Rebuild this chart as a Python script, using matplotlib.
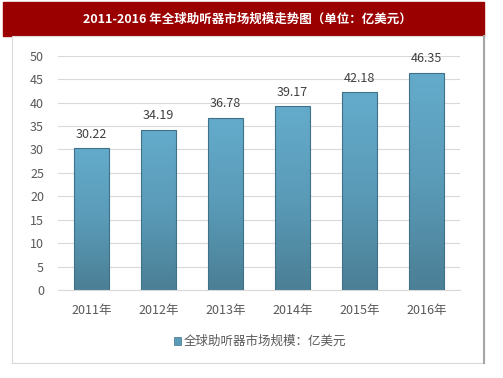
import matplotlib
matplotlib.use("Agg")
import matplotlib.pyplot as plt
import numpy as np
from matplotlib.patches import Rectangle

plt.rcParams["font.family"] = ["Noto Sans CJK SC", "DejaVu Sans"]

years = ["2011年", "2012年", "2013年", "2014年", "2015年", "2016年"]
values = [30.22, 34.19, 36.78, 39.17, 42.18, 46.35]
title = "2011-2016 年全球助听器市场规模走势图（单位：亿美元）"
legend_label = "全球助听器市场规模：亿美元"

W, H = 503, 378
fig = plt.figure(figsize=(W / 100, H / 100), dpi=100)


def px(x0, y0, x1, y1):
    # pixel box (top-left origin) -> figure fraction rect
    return [x0 / W, 1 - y1 / H, (x1 - x0) / W, (y1 - y0) / H]


# Title bar
fig.patches.append(Rectangle((3 / W, 1 - 36 / H), 481 / W, 34 / H,
                             transform=fig.transFigure, color="#9b0000", zorder=-2))
fig.text(247 / W, 1 - 19 / H, title, color="white", fontsize=9,
         fontweight="bold", ha="center", va="center")

# Panel border
fig.patches.append(Rectangle((12 / W, 1 - 363 / H), 472 / W, 327 / H,
                             transform=fig.transFigure, facecolor="white",
                             edgecolor="#d9d9d9", lw=0.8, zorder=-2))
fig.add_artist(plt.Line2D([484 / W, 484 / W], [1 - 363 / H, 1 - 36 / H],
                          transform=fig.transFigure, color="#a6a6a6", lw=1.5))

ax = fig.add_axes(px(58, 55.7, 460, 290))
ax.set_zorder(5)
ax.set_facecolor("none")
x = np.arange(len(years))
bars = ax.bar(x, values, width=0.51, color="none", edgecolor="#3f7289",
              lw=0.8, zorder=3)

grad = np.linspace(0, 1, 256).reshape(-1, 1)
cmap = matplotlib.colors.LinearSegmentedColormap.from_list(
    "bar", ["#4b7f95", "#5a9bb8", "#64abcb"])
for b in bars:
    im = ax.imshow(grad, cmap=cmap, aspect="auto", origin="lower",
                   extent=[b.get_x(), b.get_x() + b.get_width(), 0, b.get_height()],
                   zorder=2)
    im.set_clip_path(b)

for xi, v in zip(x, values):
    ax.annotate(f"{v:.2f}", (xi, v), xytext=(0, 10), textcoords="offset points",
                ha="center", va="center", fontsize=9, color="#404040")

ax.set_xlim(-0.5, len(years) - 0.5)
ax.set_ylim(0, 50)
ax.set_yticks(range(0, 51, 5))
ax.set_xticks(x)
ax.set_xticklabels(years)
ax.yaxis.grid(True, color="#d9d9d9", lw=0.8, zorder=0)
ax.set_axisbelow(True)
for s in ax.spines.values():
    s.set_visible(False)
ax.spines["bottom"].set_visible(True)
ax.spines["bottom"].set_color("#d9d9d9")
ax.tick_params(length=0, labelsize=9, colors="#595959")
ax.tick_params(axis="y", pad=10)
ax.tick_params(axis="x", pad=10)

# Legend
fig.patches.append(Rectangle((174 / W, 1 - 345 / H), 7 / W, 8 / H,
                             transform=fig.transFigure, facecolor="#5a9bb8",
                             edgecolor="#3f7289", lw=0.5))
fig.text(184 / W, 1 - 341 / H, legend_label, fontsize=9, color="#595959",
         ha="left", va="center")

fig.savefig("out.png", dpi=100)
